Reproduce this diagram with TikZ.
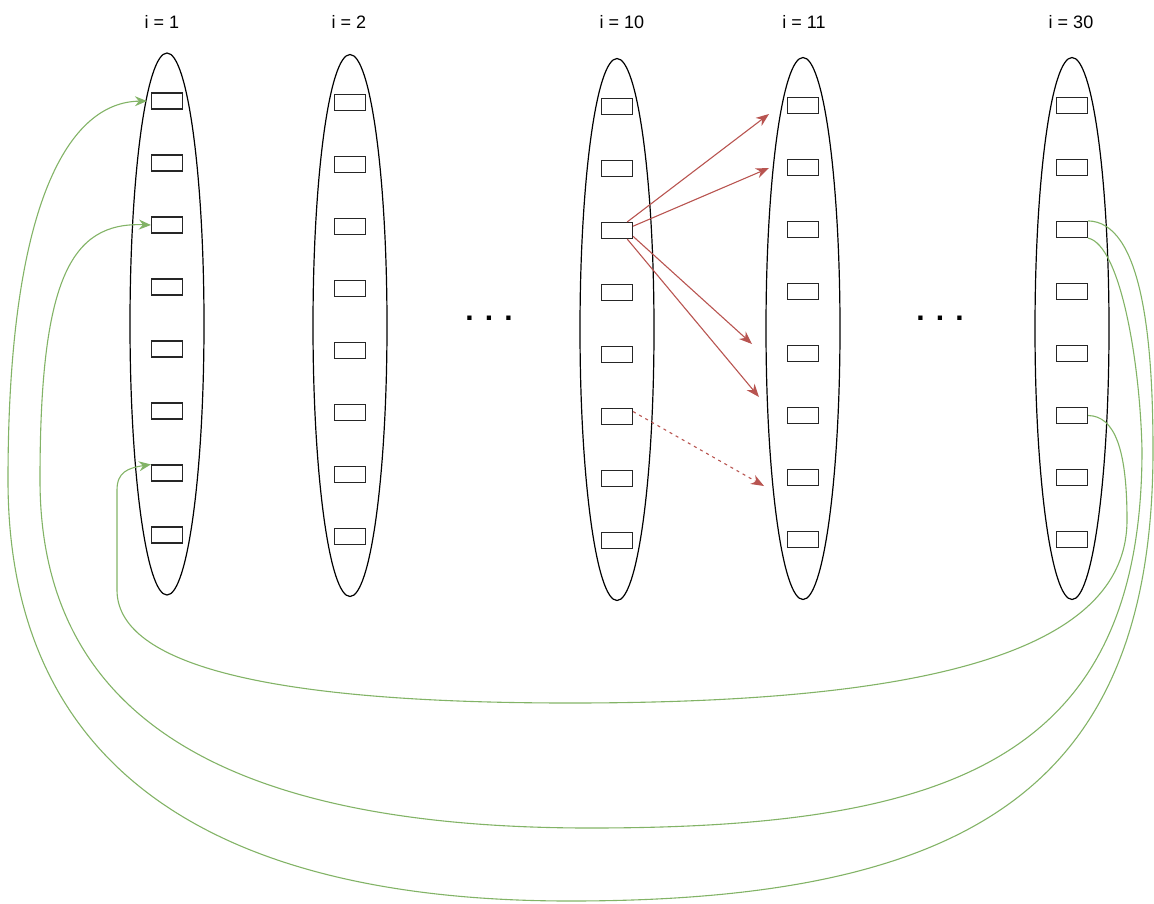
\documentclass[tikz,border=0pt]{standalone}
\usepackage{fontspec}
\setsansfont{Liberation Sans}
\usepackage{tikz}
\usetikzlibrary{arrows.meta,shapes.geometric}
\usepackage{xcolor}
\definecolor{linkgreen}{HTML}{82B366}
\definecolor{linkred}{HTML}{B85450}

\begin{document}
\begin{tikzpicture}[
  x=1pt, y=-1pt,
  >=Stealth,
  layer/.style={
    ellipse,
    draw=black,
    line width=1.2pt,
    minimum width=74pt,
    minimum height=542pt,
    inner sep=0pt,
  },
  unit/.style={
    draw=black!85,
    line width=1.2pt,
    fill=white,
    minimum width=31pt,
    minimum height=16pt,
    inner sep=0pt,
  },
  head/.style={
    font=\sffamily\fontsize{18}{21}\selectfont,
  },
  gap/.style={
    font=\sffamily\bfseries\fontsize{30}{30}\selectfont,
    anchor=base,
  },
  fwd/.style={
    -{Stealth[length=13pt,width=10pt,inset=4pt]},
    line width=1.1pt,
    linkred,
  },
  back/.style={
    -{Stealth[length=12pt,width=10pt,inset=4pt]},
    line width=1.1pt,
    linkgreen,
  },
]

\useasboundingbox (0,0) rectangle (1154,903);

% Layers with their slots
\foreach \c/\x/\y/\lx in {1/167/324/162, 2/350/325.5/349, 10/617/329.5/622,
                          11/803/328.5/804, 30/1072/328.5/1071} {
  \node[layer] (col\c) at (\x,\y) {};
  \node[head] (lab\c) at (\lx,22) {i = \c};
  \foreach \r in {1,...,8}
    \node[unit] (b\c-\r) at (\x,\y-285+62*\r) {};
}

% Skipped layers
\node[gap] (dotsA) at (489,320) {. . .};
\node[gap] (dotsB) at (940,320) {. . .};

% Forward links
\coordinate (t1) at (769,114);
\coordinate (t2) at (769,168);
\coordinate (t3) at (752,344);
\coordinate (t4) at (759,397);
\coordinate (t5) at (764,486);

\draw[fwd] (b10-3.40)  -- (t1);
\draw[fwd] (b10-3.15)  -- (t2);
\draw[fwd] (b10-3.-20) -- (t3);
\draw[fwd] (b10-3.-40) -- (t4);
\draw[fwd, dash pattern=on 3pt off 4pt] (b10-6.17) -- (t5);

% Wrap-around links
\draw[back, shorten >=4pt] (b30-3.north east)
  .. controls (1140,222) and (1153,330) .. (1153,450)
  .. controls (1153,780) and (980,901) .. (570,901)
  .. controls (230,901) and (8,780) .. (8,480)
  .. controls (8,200) and (70,102) .. (b1-1.west);

\draw[back] (b30-3.south east)
  .. controls (1120,245) and (1140,360) .. (1142,450)
  .. controls (1142,760) and (950,828) .. (590,828)
  .. controls (200,828) and (40,700) .. (40,480)
  .. controls (40,280) and (70,222) .. (b1-3.west);

\draw[back] (b30-6.east)
  .. controls (1115,416) and (1127,450) .. (1127,520)
  .. controls (1127,660) and (900,703) .. (570,703)
  .. controls (250,703) and (117,660) .. (117,590)
  -- (117,490)
  .. controls (117,472) and (128,468) .. (b1-7.north west);

\end{tikzpicture}
\end{document}
